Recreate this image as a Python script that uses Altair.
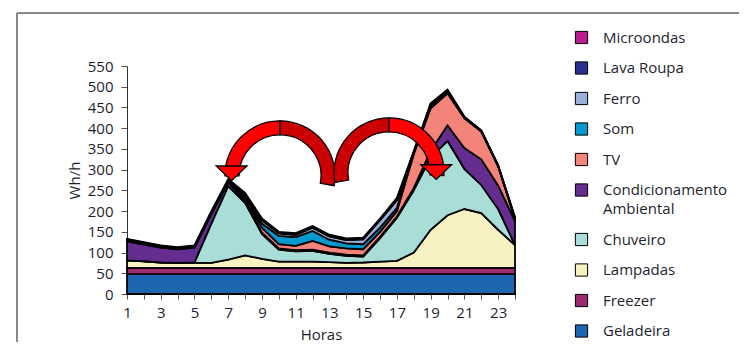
import math
import altair as alt
import pandas as pd

hours = list(range(1, 25))

# stacked series (Wh/h), bottom to top
geladeira = [48] * 24
freezer = [15] * 24
lampadas = [18, 16, 13, 12, 12, 12, 20, 30, 22, 15, 15, 15, 14, 12, 13, 15, 17, 37, 92, 127, 142, 132, 92, 55]
chuveiro = [0, 0, 0, 0, 1, 95, 177, 127, 60, 29, 25, 26, 20, 17, 14, 57, 104, 150, 175, 179, 97, 68, 50, 0]
condicionamento = [46, 40, 36, 33, 36, 23, 9, 6, 3, 3, 3, 3, 3, 3, 3, 3, 3, 6, 15, 38, 50, 62, 57, 58]
tv = [2, 2, 1, 1, 1, 2, 2, 6, 12, 10, 10, 21, 15, 15, 15, 12, 13, 82, 103, 77, 72, 67, 46, 5]
som = [1, 1, 1, 1, 1, 1, 1, 4, 10, 20, 21, 24, 16, 12, 12, 10, 8, 2, 4, 3, 1, 1, 1, 1]
ferro = [1, 1, 1, 1, 1, 1, 1, 4, 8, 6, 6, 8, 8, 8, 12, 18, 18, 2, 4, 2, 1, 1, 1, 1]
lava_roupa = [1, 1, 1, 1, 1, 1, 1, 2, 2, 2, 2, 2, 2, 2, 2, 2, 3, 1, 2, 2, 1, 0, 0, 1]
microondas = [1, 1, 1, 1, 1, 2, 3, 2, 2, 2, 2, 2, 2, 2, 2, 2, 3, 2, 2, 2, 1, 1, 1, 1]

series_names = ["Geladeira", "Freezer", "Lampadas", "Chuveiro", "Condicionamento Ambiental",
                "TV", "Som", "Ferro", "Lava Roupa", "Microondas"]
series_values = [geladeira, freezer, lampadas, chuveiro, condicionamento,
                 tv, som, ferro, lava_roupa, microondas]
series_colors = ["#1d66b0", "#9b2a6e", "#f8f1c2", "#a8ddd8", "#662d91",
                 "#f4837a", "#0399cf", "#9aaedc", "#2b2f8d", "#bb1d8c"]

legend_order = list(reversed(series_names))
legend_colors = list(reversed(series_colors))

y_ticks = list(range(0, 551, 50))

# decorative arrows (annotation positions in data units)
arrow_x = [10.07, 10.07, 16.53, 16.53]
arrow_y = [285, 285, 292, 292]
arrow_t1 = [1.5 * math.pi, 0.0, 4.54, 0.0]
arrow_t2 = [2 * math.pi, 1.75, 2 * math.pi, 1.62]
arrow_fill = ["#ff0000", "#cc0000", "#cc0000", "#ff0000"]
head_x = [7.2, 19.33]
head_y = [292, 295]

rows = []
for i, (name, vals) in enumerate(zip(series_names, series_values)):
    for h, v in zip(hours, vals):
        rows.append({"hour": h, "value": v, "series": name, "order": i})
df = pd.DataFrame(rows)

arc_df = pd.DataFrame({"x": arrow_x, "y": arrow_y, "t": arrow_t1, "t2": arrow_t2, "fill": arrow_fill})
head_df = pd.DataFrame({"x": head_x, "y": head_y})

FONT = "Open Sans"
TXT = "#1e1e2e"

xscale = alt.Scale(domain=[1, 24], nice=False, zero=False)
yscale = alt.Scale(domain=[0, 550], nice=False)

x_axis = alt.Axis(values=hours, labelExpr="datum.value % 2 == 1 ? datum.label : ''",
                  title="Horas", labelOverlap=False, labelFlush=False, tickSize=5,
                  labelPadding=6, titlePadding=7)
y_axis = alt.Axis(values=y_ticks, title="Wh/h", tickSize=6, labelOverlap=False,
                  labelFlush=False, labelPadding=8, titlePadding=5)

areas = alt.Chart(df).mark_area(stroke="black", strokeWidth=1.8, interpolate="linear", opacity=1).encode(
    x=alt.X("hour:Q", scale=xscale, axis=x_axis, title="Horas"),
    y=alt.Y("value:Q", stack="zero", scale=yscale, axis=y_axis, title="Wh/h"),
    color=alt.Color("series:N", scale=alt.Scale(domain=legend_order, range=legend_colors),
                    legend=alt.Legend(title=None, orient="none", legendX=447, legendY=-36,
                                      symbolType="square", symbolSize=150, symbolStrokeColor="black",
                                      symbolStrokeWidth=1, symbolOpacity=1, labelFontSize=15,
                                      labelFont=FONT, labelColor=TXT, rowPadding=13.5, labelOffset=14,
                                      labelLimit=0,
                                      labelExpr="datum.label == 'Condicionamento Ambiental' ? ['Condicionamento', 'Ambiental'] : datum.label")),
    order=alt.Order("order:Q", sort="ascending"),
)

arcs = alt.Chart(arc_df).mark_arc(outerRadius=55, innerRadius=41, stroke="black", strokeWidth=1.3).encode(
    x=alt.X("x:Q", scale=xscale, axis=x_axis, title="Horas"),
    y=alt.Y("y:Q", scale=yscale, axis=y_axis, title="Wh/h"),
    theta=alt.Theta("t:Q", scale=None, stack=None),
    theta2=alt.Theta2("t2:Q"),
    fill=alt.Fill("fill:N", scale=None),
)

heads = alt.Chart(head_df).mark_point(shape="M-1,-0.45L1,-0.45L0,0.5Z", size=950, filled=True,
                                      fill="#ff0000", stroke="black", strokeWidth=1.3, opacity=1).encode(
    x=alt.X("x:Q", scale=xscale, axis=x_axis, title="Horas"),
    y=alt.Y("y:Q", scale=yscale, axis=y_axis, title="Wh/h"),
)

frame_top = alt.Chart(head_df).mark_rule(color="#808080", strokeWidth=1.5).encode(
    x=alt.value(-110), x2=alt.value(612), y=alt.value(-53))
frame_left = alt.Chart(head_df).mark_rule(color="#808080", strokeWidth=1.5).encode(
    x=alt.value(-110), y=alt.value(-53), y2=alt.value(276))

chart = alt.layer(frame_top, frame_left, areas, arcs, heads).properties(
    width=388, height=228,
    padding={"left": 8, "top": 4, "right": 0, "bottom": 0},
).configure(
    style={"guide-label": {"lineHeight": 19}}
).configure_view(stroke=None).configure_axis(
    grid=False, labelFont=FONT, titleFont=FONT, labelFontSize=15, titleFontSize=15,
    labelColor=TXT, titleColor=TXT, titleFontWeight="normal", domainColor="#333333",
    tickColor="#555555", domainWidth=1,
).configure_legend(padding=0)

chart.save("out.html", embed_options={"renderer": "svg", "actions": False})
